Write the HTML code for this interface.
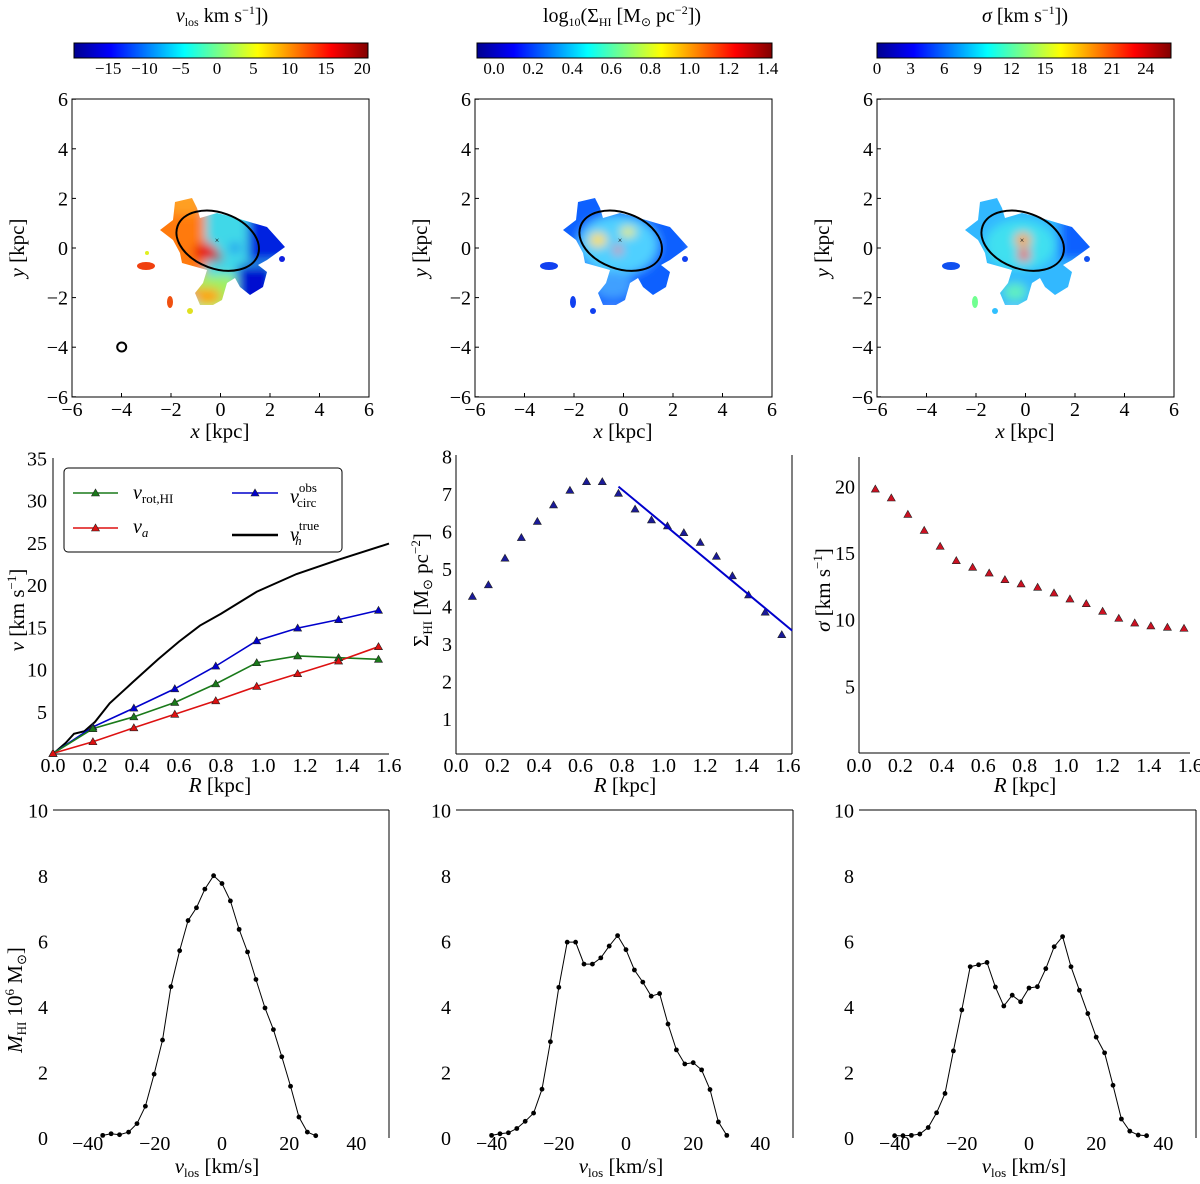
<!DOCTYPE html>
<html><head><meta charset="utf-8"><style>
html,body{margin:0;padding:0;background:#fff;}
svg{display:block;font-family:"Liberation Serif",serif;}
</style></head><body>
<svg id="fig" width="1200" height="1184" viewBox="0 0 1200 1184" xmlns="http://www.w3.org/2000/svg">
<defs>
<linearGradient id="jet" x1="0" x2="1" y1="0" y2="0">
<stop offset="0" stop-color="#00008f"/><stop offset="0.125" stop-color="#0000ff"/><stop offset="0.375" stop-color="#00ffff"/><stop offset="0.625" stop-color="#ffff00"/><stop offset="0.875" stop-color="#ff0000"/><stop offset="1" stop-color="#800000"/>
</linearGradient>
<filter id="blur" x="-20%" y="-20%" width="140%" height="140%"><feGaussianBlur stdDeviation="5"/></filter>
<clipPath id="blobclip"><polygon points="175,202 192,198 197,208 200,218 217,213 233,217 253,223 267,227 285,247 267,260 258,265 267,272 263,287 250,295 240,287 235,278 227,283 222,300 213,305 200,305 195,293 203,283 207,270 182,263 180,253 173,240 160,230 173,220"/></clipPath>
</defs>

<g>
<rect x="72" y="99" width="297" height="298" fill="none" stroke="#000" stroke-width="1"/>
<g clip-path="url(#blobclip)"><g filter="url(#blur)">
<rect x="150" y="190" width="140" height="120" fill="#40d8e8"/>
<rect x="150" y="190" width="55" height="105" fill="#ff7a10"/>
<rect x="170" y="192" width="30" height="22" fill="#ffa020"/>
<ellipse cx="205" cy="252" rx="12" ry="9" fill="#e81000"/>
<circle cx="217" cy="257" r="5" fill="#a00000"/>
<rect x="248" y="212" width="45" height="50" fill="#0020e0"/>
<rect x="238" y="265" width="35" height="40" fill="#0010d0"/>
<rect x="195" y="275" width="40" height="35" fill="#a0f060"/>
<ellipse cx="207" cy="296" rx="14" ry="8" fill="#ffa000"/>
<circle cx="235" cy="248" r="5" fill="#1080f0"/>
</g></g>
<ellipse cx="146" cy="266" rx="9" ry="4" fill="#f04010"/>
<ellipse cx="170" cy="302" rx="3" ry="6" fill="#f05010"/>
<circle cx="190" cy="311" r="3" fill="#e0e020"/>
<circle cx="147" cy="253" r="2" fill="#e0f020"/>
<circle cx="282" cy="259" r="3" fill="#1020e0"/>
<ellipse cx="217.7" cy="240.7" rx="42.7" ry="28" transform="rotate(20 217.7 240.7)" fill="none" stroke="#000" stroke-width="2"/>
<text x="217" y="243" font-size="8" text-anchor="middle">×</text>
<circle cx="121.7" cy="347" r="4.5" fill="none" stroke="#000" stroke-width="2"/>
</g>

<g>
<rect x="475" y="99" width="297" height="298" fill="none" stroke="#000" stroke-width="1"/>
<g transform="translate(403,0)">
<g clip-path="url(#blobclip)"><g filter="url(#blur)">
<rect x="150" y="190" width="140" height="120" fill="#1060ff"/>
<ellipse cx="215" cy="245" rx="40" ry="30" fill="#50d0ff"/>
<ellipse cx="195" cy="240" rx="9" ry="7" fill="#ffe040"/>
<ellipse cx="225" cy="232" rx="8" ry="5" fill="#f0f040"/>
<circle cx="215" cy="250" r="4" fill="#ff4000"/>
<ellipse cx="210" cy="285" rx="20" ry="14" fill="#40a0ff"/>
</g></g>
<ellipse cx="146" cy="266" rx="9" ry="4" fill="#1040f0"/>
<ellipse cx="170" cy="302" rx="3" ry="6" fill="#1040f0"/>
<circle cx="190" cy="311" r="3" fill="#1040f0"/>
<circle cx="282" cy="259" r="3" fill="#1040f0"/>
<ellipse cx="217.7" cy="240.7" rx="42.7" ry="28" transform="rotate(20 217.7 240.7)" fill="none" stroke="#000" stroke-width="2"/>
<text x="217" y="243" font-size="8" text-anchor="middle">×</text>
</g></g>

<g>
<rect x="877" y="99" width="297" height="298" fill="none" stroke="#000" stroke-width="1"/>
<g transform="translate(805,0)">
<g clip-path="url(#blobclip)"><g filter="url(#blur)">
<rect x="150" y="190" width="140" height="120" fill="#30b8ff"/>
<ellipse cx="215" cy="245" rx="35" ry="25" fill="#40e0f0"/>
<rect x="255" y="215" width="40" height="45" fill="#1060ff"/>
<ellipse cx="218" cy="240" rx="8" ry="7" fill="#ffa000"/>
<circle cx="219" cy="255" r="6" fill="#ff2000"/>
<ellipse cx="210" cy="292" rx="12" ry="9" fill="#60f0c0"/>
</g></g>
<ellipse cx="146" cy="266" rx="9" ry="4" fill="#1050f0"/>
<ellipse cx="170" cy="302" rx="3" ry="6" fill="#70ff90"/>
<circle cx="190" cy="311" r="3" fill="#30c0ff"/>
<circle cx="282" cy="259" r="3" fill="#1050f0"/>
<ellipse cx="217.7" cy="240.7" rx="42.7" ry="28" transform="rotate(20 217.7 240.7)" fill="none" stroke="#000" stroke-width="2"/>
<text x="217" y="243" font-size="8" text-anchor="middle">×</text>
</g></g>

<rect x="74" y="43" width="294" height="15" fill="url(#jet)" stroke="#000"/>
<rect x="477" y="43" width="295" height="15" fill="url(#jet)" stroke="#000"/>
<rect x="877" y="43" width="294" height="15" fill="url(#jet)" stroke="#000"/>
<text x="222" y="22" font-size="20" text-anchor="middle"><tspan font-style="italic">v</tspan><tspan font-size="12" dy="4">los</tspan><tspan dy="-4"> km s</tspan><tspan font-size="12" dy="-8">−1</tspan><tspan dy="8">])</tspan></text>
<text x="622" y="22" font-size="20" text-anchor="middle">log<tspan font-size="12" dy="4">10</tspan><tspan dy="-4">(Σ</tspan><tspan font-size="12" dy="4">HI</tspan><tspan dy="-4"> [M</tspan><tspan font-size="12" dy="4">⊙</tspan><tspan dy="-4"> pc</tspan><tspan font-size="12" dy="-8">−2</tspan><tspan dy="8">])</tspan></text>
<text x="1025" y="22" font-size="20" text-anchor="middle"><tspan font-style="italic">σ</tspan> [km s<tspan font-size="12" dy="-8">−1</tspan><tspan dy="8">])</tspan></text>
<g id="dyn"></g>
</svg>
<script>
const cbVelTicks = [-15,-10,-5,0,5,10,15,20];
const cbDenTicks = [0.0,0.2,0.4,0.6,0.8,1.0,1.2,1.4];
const cbSigTicks = [0,3,6,9,12,15,18,21,24];
const mapTicks = [-6,-4,-2,0,2,4,6];
const rotR = [0,0.19,0.385,0.58,0.775,0.97,1.165,1.36,1.55];
const vCircObs = [0.07,3.2,5.43,7.72,10.4,13.4,14.9,15.9,17.0];
const vRotHI = [0.07,3.0,4.4,6.1,8.3,10.8,11.6,11.4,11.2];
const vAsym = [0.07,1.45,3.1,4.7,6.3,8.0,9.5,11.0,12.7];
const trueR = [0,0.06,0.1,0.15,0.2,0.27,0.38,0.5,0.6,0.7,0.8,0.97,1.16,1.36,1.6];
const vTrue = [0,1.3,2.4,2.7,3.8,6.0,8.5,11.2,13.3,15.2,16.6,19.2,21.3,23.0,24.9];
const profR = [0.079,0.156,0.236,0.315,0.392,0.47,0.549,0.629,0.705,0.783,0.863,0.942,1.019,1.098,1.177,1.255,1.332,1.41,1.49,1.57];
const sigmaHI = [4.27,4.58,5.29,5.84,6.27,6.71,7.1,7.33,7.33,7.02,6.6,6.31,6.15,5.97,5.71,5.34,4.82,4.31,3.85,3.25];
const fitR = [0.783,1.62];
const fitSigma = [7.2,3.36];
const dispersion = [19.8,19.13,17.9,16.7,15.5,14.43,13.93,13.5,13.0,12.68,12.43,12.0,11.55,11.2,10.63,10.1,9.75,9.53,9.43,9.35];
const rTicks = [0.0,0.2,0.4,0.6,0.8,1.0,1.2,1.4,1.6];
const vTicks = [5,10,15,20,25,30,35];
const sTicks = [1,2,3,4,5,6,7,8];
const dTicks = [5,10,15,20];
const hist1V = [-35.5,-33,-30.5,-27.8,-25.3,-22.8,-20.2,-17.7,-15.2,-12.6,-10.1,-7.6,-5.1,-2.5,0,2.5,5.1,7.6,10.1,12.8,15.3,17.8,20.4,22.9,25.4,27.9];
const hist1M = [0.08,0.13,0.10,0.18,0.44,0.97,1.95,2.99,4.62,5.72,6.64,7.03,7.6,8.01,7.77,7.24,6.37,5.68,4.84,3.97,3.31,2.48,1.58,0.64,0.18,0.07];
const hist2V = [-40,-37.5,-35,-32.5,-30,-27.5,-25,-22.5,-20,-17.5,-15,-12.5,-10,-7.5,-5,-2.5,0,2.5,5,7.5,10,12.5,15,17.5,20,22.5,25,27.5,30];
const hist2M = [0.08,0.13,0.16,0.29,0.51,0.76,1.49,2.94,4.6,5.98,5.98,5.31,5.31,5.5,5.86,6.18,5.75,5.13,4.76,4.33,4.41,3.48,2.69,2.26,2.3,2.08,1.48,0.49,0.08];
const hist3V = [-40,-37.5,-35,-32.5,-30,-27.5,-25,-22.5,-20,-17.5,-15,-12.5,-10,-7.5,-5,-2.5,0,2.5,5,7.5,10,12.5,15,17.5,20,22.5,25,27.5,30,32.5,35];
const hist3M = [0.07,0.07,0.08,0.12,0.32,0.77,1.36,2.66,3.91,5.23,5.29,5.36,4.61,4.03,4.36,4.16,4.58,4.62,5.17,5.84,6.15,5.23,4.51,3.8,3.08,2.6,1.61,0.58,0.21,0.09,0.07];
const histXTicks = [-40,-20,0,20,40];
const histYTicks = [0,2,4,6,8,10];

const NS = 'http://www.w3.org/2000/svg';
const root = document.getElementById('dyn');
function el(tag, attrs){ const e=document.createElementNS(NS,tag); for(const k in attrs) e.setAttribute(k,attrs[k]); root.appendChild(e); return e; }
function fmt(v,d){ const s=v.toFixed(d); return s.replace('-','−'); }
function label(x,y,str,anchor,size,name){
  const t=el('text',{x:x,y:y,'text-anchor':anchor,'font-size':size});
  t.textContent=str;
  
  
  return t;
}
function line(x1,y1,x2,y2,name,w,c){
  const l=el('line',{x1:x1,y1:y1,x2:x2,y2:y2,stroke:c||'#000','stroke-width':w||1});
  
  
  return l;
}
function poly(xs,ys,fx,fy,color,w,name){
  const p=el('polyline',{points:xs.map((v,i)=>fx(v)+','+fy(ys[i])).join(' '),fill:'none',stroke:color,'stroke-width':w});
  
  
}
function tri(x,y,color,name){
  const p=el('polygon',{points:(x)+','+(y-4)+' '+(x-4)+','+(y+3)+' '+(x+4)+','+(y+3),fill:color,stroke:'#222','stroke-width':0.6});
  
  
}
function dot(x,y,name){
  const c=el('circle',{cx:x,cy:y,r:2.4,fill:'#000'});
  
  
}

const cbV = v=>74+(v+19.7)*7.26;
cbVelTicks.forEach(v=>label(cbV(v),74,fmt(v,0),'middle',17,'colorbar-velocity-tick'));
const cbD = v=>494+v*195.5;
cbDenTicks.forEach(v=>label(cbD(v),74,fmt(v,1),'middle',17,'colorbar-density-tick'));
const cbS = v=>877+v*11.2;
cbSigTicks.forEach(v=>label(cbS(v),74,String(v),'middle',17,'colorbar-dispersion-tick'));

[72,475,877].forEach((x0,pi)=>{
  const mx=v=>x0+148.5+v*24.75, my=v=>248-v*24.8;
  mapTicks.forEach(v=>{
    label(mx(v),416,fmt(v,0),'middle',20,'map-x-tick-label');
    label(x0-4,my(v)+7,fmt(v,0),'end',20,'map-y-tick-label');
    line(mx(v),397,mx(v),393,'map-x-tick');
    line(x0,my(v),x0+4,my(v),'map-y-tick');
  });
  const xl=label(x0+148,438,'','middle',21,'map-x-axis-title');
  xl.innerHTML='<tspan font-style="italic">x</tspan> [kpc]';
  const yl=label(0,0,'','middle',21,'map-y-axis-title');
  yl.setAttribute('transform','translate('+(x0-48)+',248) rotate(-90)');
  yl.innerHTML='<tspan font-style="italic">y</tspan> [kpc]';
});

{
  const fx=v=>53+v*210, fy=v=>754-v*8.45;
  line(53,458,53,754,'rot-y-axis'); line(53,754,389,754,'rot-x-axis');
  rTicks.forEach(v=>label(fx(v),772,fmt(v,1),'middle',20,'rot-x-tick-label'));
  vTicks.forEach(v=>label(47,fy(v)+7,String(v),'end',20,'rot-y-tick-label'));
  poly(trueR,vTrue,fx,fy,'#000',2,'v-true-line');
  poly(rotR,vCircObs,fx,fy,'#0000cc',1.6,'v-circ-obs-line');
  poly(rotR,vRotHI,fx,fy,'#1a7a1a',1.6,'v-rot-hi-line');
  poly(rotR,vAsym,fx,fy,'#dd1111',1.6,'v-a-line');
  rotR.forEach((r,i)=>{ tri(fx(r),fy(vCircObs[i]),'#0000cc','v-circ-obs-marker'); tri(fx(r),fy(vRotHI[i]),'#1a7a1a','v-rot-hi-marker'); tri(fx(r),fy(vAsym[i]),'#dd1111','v-a-marker'); });
  const yl=label(0,0,'','middle',21,'rot-y-axis-title');
  yl.setAttribute('transform','translate(24,610) rotate(-90)');
  yl.innerHTML='<tspan font-style="italic">v</tspan> [km s<tspan font-size="13" dy="-8">−1</tspan><tspan dy="8">]</tspan>';
  const xl=label(220,792,'','middle',21,'rot-x-axis-title'); xl.innerHTML='<tspan font-style="italic">R</tspan> [kpc]';
  const box=el('rect',{x:64,y:468,width:278,height:84,rx:4,fill:'#fff',stroke:'#000','stroke-width':1});
   
  line(73,493,118,493,'legend-v-rot-hi-line',1.6,'#1a7a1a'); tri(95.5,493,'#1a7a1a','legend-v-rot-hi-marker');
  line(73,528,118,528,'legend-v-a-line',1.6,'#dd1111'); tri(95.5,528,'#dd1111','legend-v-a-marker');
  line(232,493,278,493,'legend-v-circ-obs-line',1.6,'#0000cc'); tri(255,493,'#0000cc','legend-v-circ-obs-marker');
  line(232,535,278,535,'legend-v-true-line',2.5,'#000');
  let t=label(133,499,'','start',20,'legend-v-rot-hi'); t.innerHTML='<tspan font-style="italic">v</tspan><tspan font-size="13" dy="4">rot,HI</tspan>';
  t=label(133,533,'','start',20,'legend-v-a'); t.innerHTML='<tspan font-style="italic">v</tspan><tspan font-size="13" dy="4" font-style="italic">a</tspan>';
  t=label(290,503,'','start',20,'legend-v-circ-obs'); t.innerHTML='<tspan font-style="italic">v</tspan><tspan font-size="13" dy="-11">obs</tspan><tspan font-size="13" dx="-20" dy="15">circ</tspan>';
  t=label(290,541,'','start',20,'legend-v-true'); t.innerHTML='<tspan font-style="italic">v</tspan><tspan font-size="13" dy="-11">true</tspan><tspan font-size="13" font-style="italic" dx="-24" dy="15">h</tspan>';
}

{
  const fx=v=>456+v*207.5, fy=v=>756.6-v*37.5;
  line(456,455,456,754,'sd-y-axis'); line(456,754,792,754,'sd-x-axis'); line(792,455,792,754,'sd-right-spine');
  rTicks.forEach(v=>label(fx(v),772,fmt(v,1),'middle',20,'sd-x-tick-label'));
  sTicks.forEach(v=>label(452,fy(v)+7,String(v),'end',20,'sd-y-tick-label'));
  profR.forEach((r,i)=>tri(fx(r),fy(sigmaHI[i]),'#1a1a99','sd-marker'));
  poly(fitR,fitSigma,fx,fy,'#0000cc',2,'sd-exp-fit-line');
  const yl=label(0,0,'','middle',21,'sd-y-axis-title');
  yl.setAttribute('transform','translate(428,590) rotate(-90)');
  yl.innerHTML='Σ<tspan font-size="13" dy="4">HI</tspan><tspan dy="-4"> [M</tspan><tspan font-size="13" dy="4">⊙</tspan><tspan dy="-4"> pc</tspan><tspan font-size="13" dy="-8">−2</tspan><tspan dy="8">]</tspan>';
  const xl=label(625,792,'','middle',21,'sd-x-axis-title'); xl.innerHTML='<tspan font-style="italic">R</tspan> [kpc]';
}

{
  const fx=v=>859+v*207, fy=v=>753-v*13.33;
  line(859,457,859,753,'disp-y-axis'); line(859,753,1190,753,'disp-x-axis');
  rTicks.forEach(v=>label(fx(v),772,fmt(v,1),'middle',20,'disp-x-tick-label'));
  dTicks.forEach(v=>label(855,fy(v)+7,String(v),'end',20,'disp-y-tick-label'));
  profR.forEach((r,i)=>tri(fx(r),fy(dispersion[i]),'#cc1122','disp-marker'));
  const yl=label(0,0,'','middle',21,'disp-y-axis-title');
  yl.setAttribute('transform','translate(830,590) rotate(-90)');
  yl.innerHTML='<tspan font-style="italic">σ</tspan> [km s<tspan font-size="13" dy="-8">−1</tspan><tspan dy="8">]</tspan>';
  const xl=label(1025,792,'','middle',21,'disp-x-axis-title'); xl.innerHTML='<tspan font-style="italic">R</tspan> [kpc]';
}

function hist(x0,x1,zx,V,M,name,ytitle){
  const fx=v=>zx+v*3.36, fy=v=>1138-v*32.75;
  line(x0,810,x1,810,name+'-top-spine'); line(x1,810,x1,1138,name+'-right-spine');
  histXTicks.forEach(v=>label(fx(v),1150,fmt(v,0),'middle',20,name+'-x-tick-label'));
  histYTicks.forEach(v=>label(x0-5,fy(v)+7,String(v),'end',20,name+'-y-tick-label'));
  poly(V,M,fx,fy,'#000',1,name+'-line');
  V.forEach((v,i)=>dot(fx(v),fy(M[i]),name+'-point'));
  const xl=label(zx-5,1173,'','middle',21,name+'-x-axis-title');
  xl.innerHTML='<tspan font-style="italic">v</tspan><tspan font-size="13" dy="4">los</tspan><tspan dy="-4"> [km/s]</tspan>';
  if(ytitle){
    const yl=label(0,0,'','middle',21,name+'-y-axis-title');
    yl.setAttribute('transform','translate(22,1000) rotate(-90)');
    yl.innerHTML='<tspan font-style="italic">M</tspan><tspan font-size="13" dy="4">HI</tspan><tspan dy="-4"> 10</tspan><tspan font-size="13" dy="-8">6</tspan><tspan dy="8"> M</tspan><tspan font-size="13" dy="4">⊙</tspan><tspan dy="-4">]</tspan>';
  }
}
hist(53,389,222,hist1V,hist1M,'hist-left',true);
hist(456,793,626,hist2V,hist2M,'hist-middle',false);
hist(859,1196,1029,hist3V,hist3M,'hist-right',false);
</script>
</body></html>
